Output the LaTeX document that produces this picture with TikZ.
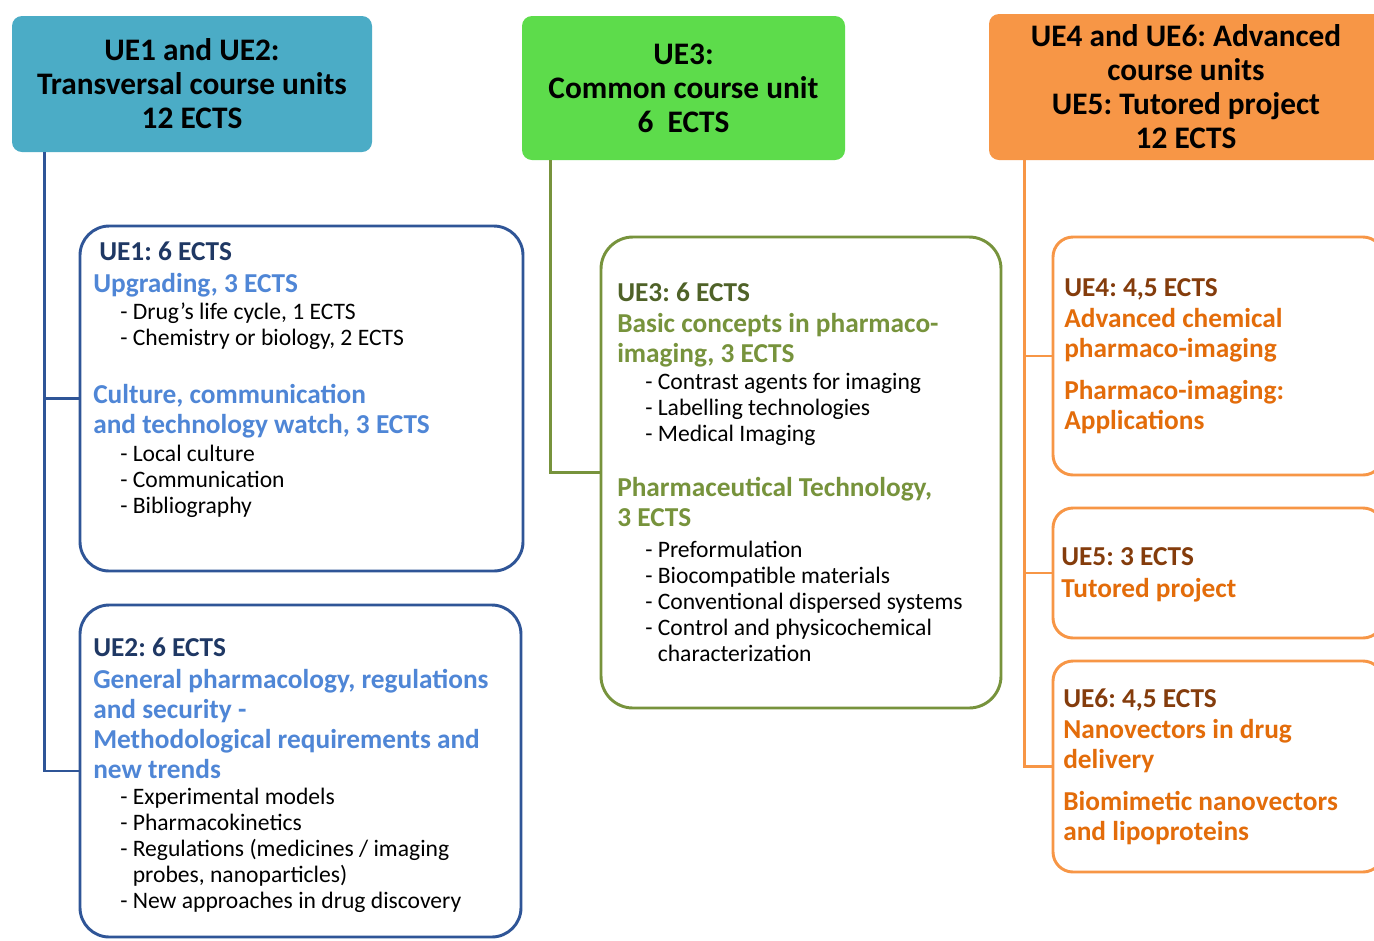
\documentclass[tikz,border=0pt]{standalone}
\usepackage{fontspec}
\setmainfont{Carlito}
\usepackage{xcolor}
\usetikzlibrary{calc}
\frenchspacing

\definecolor{ueteal}{HTML}{4BACC6}
\definecolor{uegreen}{HTML}{5DDC4B}
\definecolor{ueorange}{HTML}{F79646}
\definecolor{ueblue}{HTML}{2F5597}
\definecolor{uebluetxt}{HTML}{4F86D6}
\definecolor{uenavy}{HTML}{1F3864}
\definecolor{ueolive}{HTML}{77933C}
\definecolor{ueolivedark}{HTML}{4F6228}
\definecolor{ueorangetxt}{HTML}{E36C0A}
\definecolor{uebrown}{HTML}{843C0C}

\tikzset{
  titlebox/.style={rounded corners=7.5pt, inner sep=0pt, align=center,
    font=\fontsize{23.5}{25.5}\selectfont\bfseries},
  bluebox/.style={draw=ueblue, line width=2.2pt, rounded corners=22pt, inner sep=0pt},
  olivebox/.style={draw=ueolive, line width=2.2pt, rounded corners=24pt, inner sep=0pt},
  orangebox/.style={draw=ueorange, line width=2.2pt, rounded corners=15pt, inner sep=0pt},
  link/.style={line width=2.2pt},
  hdr/.style={anchor=base west, inner sep=0pt, align=left,
    font=\fontsize{20.5}{22.5}\selectfont\bfseries},
  subhead/.style={anchor=base west, inner sep=0pt, align=left,
    font=\fontsize{20.5}{22.5}\selectfont\bfseries},
  item/.style={anchor=base west, inner sep=0pt, align=left,
    font=\fontsize{17.7}{19.5}\selectfont}
}

\begin{document}
\begin{tikzpicture}[x=0.75pt,y=-0.75pt]
\useasboundingbox (0,0) rectangle (1374,940);
\clip (0,0) rectangle (1374,940);
\fill[white] (0,0) rectangle (1374,940);

\node[titlebox, fill=ueteal, minimum width=270pt, minimum height=102pt] (ttl1) at (192,84)
  {UE1 and UE2:\\Transversal course units\\12 ECTS};
\node[titlebox, fill=uegreen, minimum width=242.25pt, minimum height=108pt] (ttl2) at (683.5,88)
  {UE3:\\Common course unit\\6~~ECTS};
\node[titlebox, fill=ueorange, minimum width=295.5pt, minimum height=109.5pt] (ttl3) at (1186,87)
  {UE4 and UE6: Advanced\\course units\\UE5: Tutored project\\12 ECTS};

\node[bluebox, minimum width=332.25pt, minimum height=258.75pt] (ue1) at (301.5,398.5) {};
\node[bluebox, minimum width=330.75pt, minimum height=249pt] (ue2) at (300.5,771) {};
\node[olivebox, minimum width=300pt, minimum height=353.25pt] (ue3) at (801,472.5) {};
\node[orangebox, minimum width=247.5pt, minimum height=178.5pt] (ue4) at (1218,356) {};
\node[orangebox, minimum width=247.5pt, minimum height=97.5pt] (ue5) at (1218,573) {};
\node[orangebox, minimum width=247.5pt, minimum height=158.25pt] (ue6) at (1218,766.5) {};

\draw[link, ueblue] ($(ttl1.south west)+(33,0)$) |- (ue1.west);
\draw[link, ueblue] ($(ttl1.south west)+(33,0)$) |- (ue2.west);
\draw[link, ueolive] ($(ttl2.south west)+(29,0)$) |- (ue3.west);
\draw[link, ueorange] ($(ttl3.south west)+(36,0)$) |- (ue4.west);
\draw[link, ueorange] ($(ttl3.south west)+(36,0)$) |- (ue5.west);
\draw[link, ueorange] ($(ttl3.south west)+(36,0)$) |- (ue6.west);

\node[hdr, uenavy] (ue1h) at (99,260) {UE1: 6 ECTS};
\node[subhead, uebluetxt] (ue1a) at (93,292) {Upgrading, 3 ECTS};
\node[item] (ue1b) at (120,345) {- Drug’s life cycle, 1 ECTS\\- Chemistry or biology, 2 ECTS};
\node[subhead, uebluetxt] (ue1c) at (93,433) {Culture, communication\\and technology watch, 3 ECTS};
\node[item] (ue1d) at (120,513) {- Local culture\\- Communication\\- Bibliography};

\node[hdr, uenavy] (ue2h) at (93,656) {UE2: 6 ECTS};
\node[subhead, uebluetxt] (ue2a) at (93,778) {General pharmacology, regulations\\and security -\\Methodological requirements and\\new trends};
\node[item] (ue2b) at (120,908) {- Experimental models\\- Pharmacokinetics\\- Regulations (medicines / imaging\\\phantom{- }probes, nanoparticles)\\- New approaches in drug discovery};

\node[hdr, ueolivedark] (ue3h) at (617,301) {UE3: 6 ECTS};
\node[subhead, ueolive] (ue3a) at (617,362) {Basic concepts in pharmaco-\\imaging, 3 ECTS};
\node[item] (ue3b) at (645,441) {- Contrast agents for imaging\\- Labelling technologies\\- Medical Imaging};
\node[subhead, ueolive] (ue3c) at (617,526) {Pharmaceutical Technology,\\3 ECTS};
\node[item] (ue3d) at (645,661) {- Preformulation\\- Biocompatible materials\\- Conventional dispersed systems\\- Control and physicochemical\\\phantom{- }characterization};

\node[hdr, uebrown] (ue4h) at (1064,296) {UE4: 4,5 ECTS};
\node[subhead, ueorangetxt] (ue4a) at (1064,357) {Advanced chemical\\pharmaco-imaging};
\node[subhead, ueorangetxt] (ue4b) at (1064,429) {Pharmaco-imaging:\\Applications};

\node[hdr, uebrown] (ue5h) at (1061,565) {UE5: 3 ECTS};
\node[subhead, ueorangetxt] (ue5a) at (1061,597) {Tutored project};

\node[hdr, uebrown] (ue6h) at (1063,707) {UE6: 4,5 ECTS};
\node[subhead, ueorangetxt] (ue6a) at (1063,768) {Nanovectors in drug\\delivery};
\node[subhead, ueorangetxt] (ue6b) at (1063,840) {Biomimetic nanovectors\\and lipoproteins};
\end{tikzpicture}
\end{document}
